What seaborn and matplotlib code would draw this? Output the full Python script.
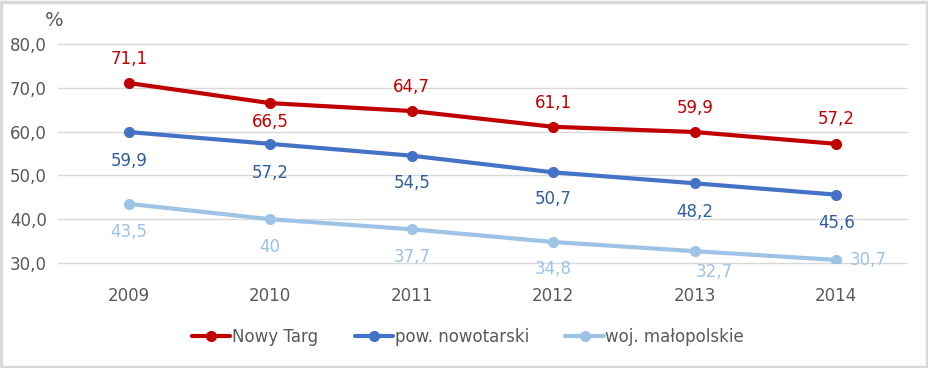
import matplotlib
matplotlib.use("Agg")
import matplotlib.pyplot as plt
import seaborn as sns
import pandas as pd
from matplotlib.patches import Rectangle

years = ["2009", "2010", "2011", "2012", "2013", "2014"]
nowy_targ = [71.1, 66.5, 64.7, 61.1, 59.9, 57.2]
pow_nowotarski = [59.9, 57.2, 54.5, 50.7, 48.2, 45.6]
woj_malopolskie = [43.5, 40.0, 37.7, 34.8, 32.7, 30.7]
series_names = ["Nowy Targ", "pow. nowotarski", "woj. małopolskie"]
label_texts = [
    ["71,1", "66,5", "64,7", "61,1", "59,9", "57,2"],
    ["59,9", "57,2", "54,5", "50,7", "48,2", "45,6"],
    ["43,5", "40", "37,7", "34,8", "32,7", "30,7"],
]
yticks = [30, 40, 50, 60, 70, 80]
ytick_labels = ["30,0", "40,0", "50,0", "60,0", "70,0", "80,0"]

line_colors = ["#C00000", "#4472C4", "#9DC3E6"]
text_colors = ["#C00000", "#2F5F9E", "#9DC3E6"]
# label offsets in pixels (dx, dy) relative to point (dy positive = up), alignment
offsets = [
    [(0, 24), (0, -19), (0, 24), (0, 24), (0, 24), (0, 25)],
    [(0, -29), (0, -29), (0, -27), (0, -27), (0, -29), (0, -28)],
    [(0, -28), (0, -28), (0, -28), (0, -27), (20, -21), (13, 0)],
]
aligns = [
    ["center"] * 6,
    ["center"] * 6,
    ["center"] * 5 + ["left"],
]

rows = []
for name, vals in zip(series_names, [nowy_targ, pow_nowotarski, woj_malopolskie]):
    for i, v in enumerate(vals):
        rows.append({"year": i, "value": v, "series": name})
df = pd.DataFrame(rows)

sns.set_theme(style="white")
plt.rcParams["font.family"] = ["DejaVu Sans"]

fig = plt.figure(figsize=(9.29, 3.68), dpi=100)
ax = fig.add_axes([58 / 929, 1 - 263 / 368, (907 - 58) / 929, (263 - 44) / 368])

sns.lineplot(data=df, x="year", y="value", hue="series", hue_order=series_names,
             palette=line_colors, marker="o", markersize=8, markeredgewidth=0,
             linewidth=3.0, ax=ax, legend=True)

ax.set_xlim(-0.5, 5.5)
ax.set_ylim(30, 80)
ax.set_yticks(yticks)
ax.set_yticklabels(ytick_labels)
ax.set_xticks(range(len(years)))
ax.set_xticklabels(years)
ax.tick_params(axis="both", length=0, labelsize=12, labelcolor="#595959")
ax.tick_params(axis="x", pad=17)
ax.tick_params(axis="y", pad=8)
ax.set_xlabel("")
ax.set_ylabel("")
for s in ax.spines.values():
    s.set_visible(False)
ax.yaxis.grid(True, color="#D9D9D9", linewidth=1)
for gl in ax.get_ygridlines():
    gl.set_clip_on(False)
ax.set_axisbelow(True)

for si, vals in enumerate([nowy_targ, pow_nowotarski, woj_malopolskie]):
    for i, v in enumerate(vals):
        dx, dy = offsets[si][i]
        ax.annotate(label_texts[si][i], (i, v), xytext=(dx, dy), textcoords="offset pixels",
                    ha=aligns[si][i], va="center", fontsize=12,
                    color=text_colors[si], annotation_clip=False)

fig.text(54 / 929, 1 - 20 / 368, "%", ha="center", va="center", fontsize=14, color="#595959")

leg = ax.legend(loc="center", bbox_to_anchor=(468 / 929, 1 - 337 / 368),
                bbox_transform=fig.transFigure, ncol=3, frameon=False, fontsize=12,
                handlelength=2.3, handletextpad=0.1, columnspacing=2.2)
for t in leg.get_texts():
    t.set_color("#595959")

fig.patches.append(Rectangle((0.0015, 0.003), 0.996, 0.992, transform=fig.transFigure,
                             fill=False, edgecolor="#D9D9D9", linewidth=2.5))

fig.savefig("out.png", dpi=100, facecolor="white")
